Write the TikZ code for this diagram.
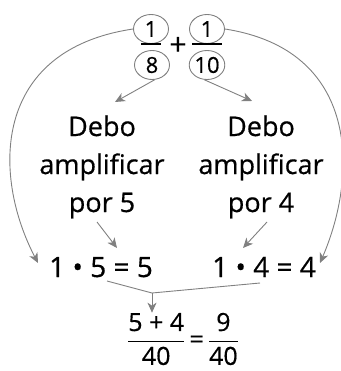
\documentclass[tikz,border=0pt]{standalone}
\usepackage{amsmath}
\usepackage{fontspec}
\setmainfont{Open Sans}[FakeBold=0.5]
\usepackage{tikz}
\usetikzlibrary{positioning,shapes.geometric,arrows.meta}
\definecolor{lineg}{HTML}{808080}
\tikzset{
  % --- circled terms of the sum ----------------------------------------------
  term/.style={ellipse,draw=lineg,line width=0.9pt,minimum width=35pt,
               minimum height=29pt,inner sep=0pt,font=\fontsize{22}{22}\selectfont},
  fbar/.style={line width=1.2pt},
  % --- text blocks -------------------------------------------------------------
  note/.style={align=center,inner sep=0pt,font=\fontsize{27}{38}\selectfont},
  prod/.style={inner sep=0pt,anchor=base,font=\fontsize{28}{28}\selectfont},
  % --- connectors --------------------------------------------------------------
  lnk/.style={draw=lineg,line width=0.9pt},
  arr/.style={lnk,-{Stealth[length=10pt,width=9pt,inset=3pt]}},
}

\begin{document}
\begin{tikzpicture}[x=1pt, y=1pt]
  \useasboundingbox (0,0) rectangle (340,-371);
  % --- the sum 1/8 + 1/10 -------------------------------------------------
  \node[term] (n1) at (151,-29) {1};
  \node[term] (d1) at (152,-65) {8};
  \node[term] (n2) at (207,-29) {1};
  \node[term] (d2) at (207,-65) {10};
  \draw[fbar] ([xshift=-10pt]n1.south) -- ([xshift=10pt]n1.south);
  \draw[fbar] ([xshift=-15pt]n2.south) -- ([xshift=15pt]n2.south);
  \node[font=\fontsize{30}{30}\selectfont,inner sep=0pt] (pl) at (178,-46) {+};

  % --- what to do with each term ----------------------------------------
  \node[note] (bl) at (102,-167) {Debo\\amplificar\\por 5};
  \node[note] (br) at (261,-167) {Debo\\amplificar\\por 4};

  \node[prod] (pl5) at (101,-277) {1 • 5 = 5};
  \node[prod] (pl4) at (264,-277) {1 • 4 = 4};

  \node[inner sep=0pt,font=\fontsize{25}{25}\selectfont] (res) at (183,-339)
    {$\displaystyle\frac{\text{5 + 4}}{\text{40}}\,\text{=}\,\frac{\text{9}}{\text{40}}$};

  % --- free ends ---------------------------------------------------------
  \coordinate (tl) at (115,-102);
  \coordinate (tr) at (252,-101);
  \coordinate (sl) at (97,-222);
  \coordinate (el) at (117,-248);
  \coordinate (sr) at (267,-222);
  \coordinate (er) at (243,-248);
  \coordinate (cl) at (38,-263);
  \coordinate (cr) at (320,-263);
  \coordinate (ml) at (107,-281);
  \coordinate (mr) at (260,-283);
  \coordinate (jn) at (152,-293);

  \draw[arr] (d1.-80) -- (tl);
  \draw[arr] (d2.-100) -- (tr);
  \draw[arr] (sl) -- (el);
  \draw[arr] (sr) -- (er);
  % the numerators go straight down to the products
  \draw[arr] (n1.west) .. controls (-8,-50) and (-8,-175) .. (cl);
  \draw[arr] (n2.east) .. controls (360,-50) and (358,-175) .. (cr);
  % both products meet in the result
  \draw[lnk] (ml) -- (jn) -- (mr);
  \draw[arr] (jn) -- (res.north -| jn);
\end{tikzpicture}
\end{document}
